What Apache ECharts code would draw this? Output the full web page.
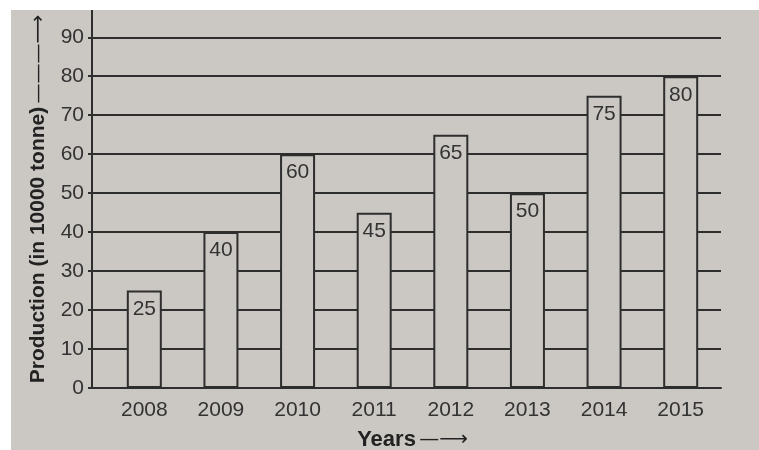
<!DOCTYPE html>
<html>
<head>
<meta charset="utf-8">
<script src="https://cdn.jsdelivr.net/npm/echarts@6/dist/echarts.min.js"></script>
<style>
  html, body { margin: 0; padding: 0; background: #fff; }
  #chart {
    position: absolute;
    left: 11px;
    top: 10px;
    width: 748px;
    height: 440px;
  }
</style>
</head>
<body>
<div id="chart"></div>
<script>
// data
var years = ['2008', '2009', '2010', '2011', '2012', '2013', '2014', '2015'];
var production = [25, 40, 60, 45, 65, 50, 75, 80];

var paper = '#cbc8c3';
var ink = '#2e2e2e';
var font = "'Liberation Sans', Arial, sans-serif";
var arrowFont = "'DejaVu Sans', sans-serif";

var myChart = echarts.init(document.getElementById('chart'));

var options = {
  backgroundColor: paper,
  animation: false,
  grid: [
    // grid lines + y axis
    { left: 81, width: 629, top: 0, bottom: 62, outerBoundsMode: 'none' },
    // bars
    { left: 95, width: 613, top: 0, bottom: 62, outerBoundsMode: 'none' }
  ],
  xAxis: [
    {
      type: 'value',
      gridIndex: 0,
      min: 0,
      max: 1,
      axisLine: { show: true, lineStyle: { color: ink, width: 2 } },
      axisTick: { show: false },
      axisLabel: { show: false },
      splitLine: { show: false }
    },
    {
      type: 'category',
      gridIndex: 1,
      data: years,
      axisLine: { show: false },
      axisTick: { show: false },
      axisLabel: {
        fontFamily: font,
        fontSize: 21,
        color: '#333',
        margin: 12
      },
      name: '{t|Years} {a|—⟶}',
      nameLocation: 'middle',
      nameGap: 41,
      nameTextStyle: {
        rich: {
          t: { fontFamily: font, fontSize: 22, fontWeight: 'bold', color: '#222' },
          a: { fontFamily: arrowFont, fontSize: 20, color: '#222' }
        }
      }
    }
  ],
  yAxis: [
    {
      type: 'value',
      gridIndex: 0,
      min: 0,
      max: 97,
      interval: 10,
      axisLine: { show: true, lineStyle: { color: ink, width: 2 } },
      axisTick: { show: true, length: 4, lineStyle: { color: ink, width: 2 } },
      axisLabel: {
        showMaxLabel: false,
        fontFamily: font,
        fontSize: 21,
        color: '#333',
        margin: 8
      },
      splitLine: {
        show: true,
        showMaxLine: false,
        lineStyle: { color: ink, width: 2 }
      },
      name: '{t|Production (in 10000 tonne)} {a|———⟶}',
      nameLocation: 'middle',
      nameRotate: 90,
      nameGap: 43,
      nameTextStyle: {
        rich: {
          t: { fontFamily: font, fontSize: 21, fontWeight: 'bold', color: '#222' },
          a: { fontFamily: arrowFont, fontSize: 20, color: '#222' }
        }
      }
    },
    {
      type: 'value',
      gridIndex: 1,
      min: 0,
      max: 97,
      show: false
    }
  ],
  series: [
    {
      name: 'Production',
      type: 'bar',
      xAxisIndex: 1,
      yAxisIndex: 1,
      barWidth: 35,
      z: 5,
      itemStyle: {
        color: paper,
        borderColor: ink,
        borderWidth: 2
      },
      label: {
        show: true,
        position: 'insideTop',
        distance: 8,
        fontFamily: font,
        fontSize: 21,
        color: '#333'
      },
      data: production
    }
  ]
};

myChart.setOption(options);
</script>
</body>
</html>
